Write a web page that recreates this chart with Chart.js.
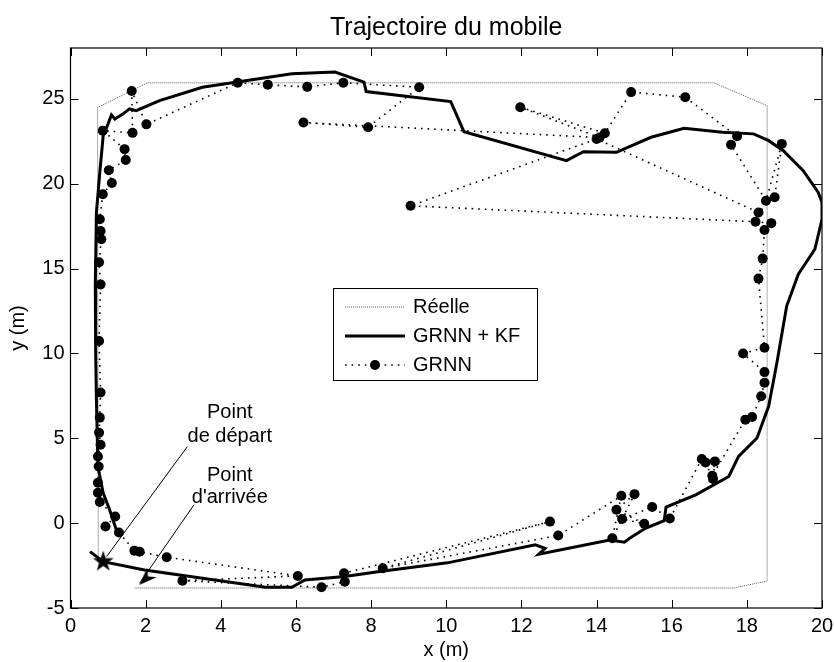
<!DOCTYPE html>
<html><head><meta charset="utf-8">
<script src="https://cdn.jsdelivr.net/npm/chart.js@4.4.1/dist/chart.umd.min.js"></script>
<style>html,body{margin:0;padding:0;background:#fff;overflow:hidden}#wrap{width:834px;height:662px;position:relative}</style>
</head><body><div id="wrap"><canvas id="c" width="834" height="662"></canvas></div>
<script>
// ---------------- data ----------------
const chartTitle = 'Trajectoire du mobile';
const xAxisTitle = 'x (m)';
const yAxisTitle = 'y (m)';
const seriesLabels = ['Réelle', 'GRNN + KF', 'GRNN'];
const xTicks = [0, 2, 4, 6, 8, 10, 12, 14, 16, 18, 20];
const yTicks = [-5, 0, 5, 10, 15, 20, 25];

const reelleX = [1.70, 17.65, 18.54, 18.54, 17.12, 2.05, 0.72, 0.74];
const reelleY = [-3.82, -3.82, -3.41, 24.60, 25.95, 25.95, 24.50, -2.58];

const kfX = [0.52,0.87,1.97,5.19,5.89,6.24,7.30,8.18,10.03,12.37,12.63,12.46,14.35,14.74,14.88,15.30,15.80,15.85,16.64,17.52,17.78,18.27,18.58,18.80,19.06,19.37,19.81,20.00,20.00,19.90,19.50,18.97,18.58,18.18,17.35,16.33,15.45,14.53,13.65,13.20,10.47,10.12,7.87,7.81,7.04,5.89,3.51,2.37,1.75,1.57,1.40,1.18,1.09,1.00,0.87,0.78,0.69,0.66,0.67,0.69,0.73,0.87,1.04,1.25];
const kfY = [-1.68,-2.27,-2.76,-3.78,-3.78,-3.35,-3.15,-2.86,-2.34,-1.28,-1.48,-1.83,-0.99,-1.12,-0.89,-0.30,0.15,0.95,1.67,2.75,3.93,5.02,6.89,9.45,12.79,14.67,16.14,17.91,18.90,19.49,20.77,21.95,22.54,22.94,23.04,23.27,22.74,21.85,21.89,21.36,23.07,24.84,25.43,25.99,26.58,26.48,25.69,24.90,24.31,24.41,24.12,23.82,24.06,23.53,22.84,20.67,18.31,14.00,10.00,7.28,3.34,1.77,0.79,-0.60];

const grnnX = [1.29,1.70,1.84,2.56,6.05,2.98,6.68,7.30,7.28,12.76,8.31,12.98,14.66,14.42,15.01,14.53,15.27,14.68,15.48,15.95,16.80,16.90,17.10,17.15,17.08,17.96,18.14,18.38,18.47,18.47,17.90,18.47,18.31,18.42,18.47,18.65,18.23,9.05,14.00,18.31,18.74,18.93,18.51,17.58,17.74,16.36,14.92,14.22,11.97,14.08,6.20,7.92,9.28,7.26,6.30,5.25,4.45,2.02,1.63,1.65,0.86,1.44,1.47,1.02,1.10,0.86,0.78,0.80,0.82,0.76,0.80,0.76,0.80,0.78,0.76,0.80,0.73,0.75,0.73,0.73,0.78,1.19,0.93];
const grnnY = [-0.55,-1.62,-1.68,-2.01,-3.11,-3.39,-3.78,-3.45,-2.95,0.09,-2.66,-0.73,1.61,-0.89,1.71,0.79,-0.04,0.24,0.95,0.27,3.78,3.58,2.60,3.64,2.79,6.10,6.26,7.48,8.27,8.90,10.00,10.34,14.41,15.59,17.27,17.68,17.76,18.70,22.64,18.31,19.20,22.35,19.00,22.30,22.80,25.10,25.40,22.98,24.51,22.72,23.61,23.33,25.69,25.95,25.71,25.83,25.95,23.50,25.47,23.00,23.13,22.04,21.40,20.80,20.04,19.38,17.91,17.22,16.73,15.37,14.07,10.73,7.70,6.22,5.33,4.62,3.93,3.34,2.38,1.79,1.25,0.39,-0.20];

const startX = [0.87], startY = [-2.27];
const endX = [2.10], endY = [-3.05];

const startLabel = ['Point', 'de départ'];
const endLabel = ['Point', "d'arrivée"];
const startLeaderX = [3.11, 0.96], startLeaderY = [4.51, -1.97];
const endLeaderX = [3.29, 1.84], endLeaderY = [1.09, -3.54];

// ---------------- helpers / styles ----------------
const FONT = "'Liberation Sans', Arial, Helvetica, sans-serif";
const toPts = (xs, ys) => xs.map((x, i) => ({x, y: ys[i]}));

function makeStar(r) {
  const c = document.createElement('canvas');
  c.width = c.height = 2 * r + 2;
  const g = c.getContext('2d');
  g.translate(r + 1, r + 1);
  g.beginPath();
  for (let i = 0; i < 10; i++) {
    const rad = i % 2 === 0 ? r : r * 0.38;
    const a = -Math.PI / 2 + i * Math.PI / 5;
    g.lineTo(rad * Math.cos(a), rad * Math.sin(a));
  }
  g.closePath(); g.fillStyle = '#000'; g.fill();
  return c;
}
function makeArrow(s) {
  const c = document.createElement('canvas');
  c.width = c.height = s;
  const g = c.getContext('2d');
  const T = [1, s - 1], d = [0.7071, -0.7071], p = [0.7071, 0.7071];
  const L = s * 0.8, W = s * 0.3, N = s * 0.55;
  const B = [T[0] + L * d[0], T[1] + L * d[1]];
  g.beginPath();
  g.moveTo(T[0], T[1]);
  g.lineTo(B[0] + W * p[0], B[1] + W * p[1]);
  g.lineTo(T[0] + N * d[0], T[1] + N * d[1]);
  g.lineTo(B[0] - W * p[0], B[1] - W * p[1]);
  g.closePath(); g.fillStyle = '#000'; g.fill();
  return c;
}

// inward ticks + axes box
const boxTicks = {
  id: 'boxTicks',
  afterDatasetsDraw(chart) {
    const {ctx, chartArea: a, scales: {x, y}} = chart;
    ctx.save();
    ctx.strokeStyle = '#000'; ctx.lineWidth = 1.2; ctx.setLineDash([]);
    ctx.strokeRect(a.left, a.top, a.right - a.left, a.bottom - a.top);
    const L = 8;
    ctx.lineWidth = 1;
    ctx.beginPath();
    xTicks.forEach(v => {
      const px = Math.round(x.getPixelForValue(v)) + 0.5;
      ctx.moveTo(px, a.bottom); ctx.lineTo(px, a.bottom - L);
      ctx.moveTo(px, a.top); ctx.lineTo(px, a.top + L);
    });
    yTicks.forEach(v => {
      const py = Math.round(y.getPixelForValue(v)) + 0.5;
      ctx.moveTo(a.left, py); ctx.lineTo(a.left + L, py);
      ctx.moveTo(a.right, py); ctx.lineTo(a.right - L, py);
    });
    ctx.stroke();
    ctx.restore();
  }
};

// annotation texts
const annoText = {
  id: 'annoText',
  afterDatasetsDraw(chart, args, opts) {
    const {ctx, scales: {x, y}} = chart;
    ctx.save();
    ctx.fillStyle = '#000'; ctx.font = '20px ' + FONT;
    ctx.textAlign = 'center'; ctx.textBaseline = 'middle';
    opts.items.forEach(it => {
      it.lines.forEach((t, i) => {
        ctx.fillText(t, x.getPixelForValue(it.x), y.getPixelForValue(it.y[i]));
      });
    });
    ctx.restore();
  }
};

// boxed legend inside the plot
const boxLegend = {
  id: 'boxLegend',
  afterDraw(chart, args, o) {
    const ctx = chart.ctx;
    const items = chart.data.datasets.filter(d => d.inLegend);
    ctx.save();
    ctx.fillStyle = '#fff';
    ctx.fillRect(o.left, o.top, o.width, o.height);
    ctx.strokeStyle = '#000'; ctx.lineWidth = 1; ctx.setLineDash([]);
    ctx.strokeRect(o.left + 0.5, o.top + 0.5, o.width, o.height);
    items.forEach((d, i) => {
      const yy = o.top + o.firstRow + i * o.rowGap;
      ctx.strokeStyle = d.borderColor; ctx.lineWidth = d.borderWidth;
      ctx.setLineDash(d.borderDash || []);
      ctx.beginPath(); ctx.moveTo(o.lineX0, yy); ctx.lineTo(o.lineX1, yy); ctx.stroke();
      ctx.setLineDash([]);
      if (d.pointRadius > 0) {
        ctx.fillStyle = d.pointBackgroundColor;
        ctx.beginPath(); ctx.arc((o.lineX0 + o.lineX1) / 2, yy, d.pointRadius, 0, Math.PI * 2); ctx.fill();
      }
      ctx.fillStyle = '#000'; ctx.font = '20px ' + FONT;
      ctx.textAlign = 'left'; ctx.textBaseline = 'middle';
      ctx.fillText(d.label, o.textX, yy);
    });
    ctx.restore();
  }
};

const datasets = [
  { label: seriesLabels[0], inLegend: true, data: toPts(reelleX, reelleY), showLine: true,
    borderColor: '#5a5a5a', borderWidth: 1, borderDash: [1, 1], pointRadius: 0, order: 5, tension: 0 },
  { label: seriesLabels[2], inLegend: true, data: toPts(grnnX, grnnY), showLine: true,
    borderColor: '#000', borderWidth: 1.6, borderDash: [1.6, 5], pointRadius: 5,
    pointBackgroundColor: '#000', pointBorderWidth: 0, order: 4, tension: 0 },
  { label: seriesLabels[1], inLegend: true, data: toPts(kfX, kfY), showLine: true,
    borderColor: '#000', borderWidth: 3, pointRadius: 0, order: 3, tension: 0 },
  { label: 'leader1', data: toPts(startLeaderX, startLeaderY), showLine: true,
    borderColor: '#000', borderWidth: 1, pointRadius: 0, order: 2 },
  { label: 'leader2', data: toPts(endLeaderX, endLeaderY), showLine: true,
    borderColor: '#000', borderWidth: 1, pointRadius: 0, order: 2 },
  { label: 'start', data: toPts(startX, startY), pointStyle: makeStar(11), pointRadius: 11, order: 1, clip: false },
  { label: 'end', data: toPts(endX, endY), pointStyle: makeArrow(22), pointRadius: 11, order: 1, clip: false }
];
const legendOrder = [0, 2, 1];
const orderedForLegend = legendOrder.map(i => datasets[i]);

new Chart(document.getElementById('c'), {
  type: 'scatter',
  data: { datasets: orderedForLegend.concat(datasets.slice(3)) },
  plugins: [boxTicks, annoText, boxLegend],
  options: {
    responsive: false, animation: false, devicePixelRatio: 1,
    layout: { padding: { left: 0, right: 7, top: 0, bottom: 0 } },
    plugins: {
      legend: { display: false },
      tooltip: { enabled: false },
      title: { display: true, text: chartTitle, color: '#000', fullSize: false,
        font: { family: FONT, size: 25, weight: 'normal', lineHeight: 1.2 }, padding: { top: 13, bottom: 5 } },
      annoText: { items: [
        { x: 4.24, y: [6.51, 5.10], lines: startLabel },
        { x: 4.24, y: [2.79, 1.50], lines: endLabel } ] },
      boxLegend: { left: 333, top: 288, width: 204, height: 92, firstRow: 19, rowGap: 29,
        lineX0: 345, lineX1: 405, textX: 413 }
    },
    scales: {
      x: { type: 'linear', min: 0, max: 20,
        afterBuildTicks: s => { s.ticks = xTicks.map(v => ({ value: v })); },
        afterFit: s => { s.height = 54; s.paddingLeft = 0; s.paddingRight = 0; },
        grid: { display: false, drawTicks: false }, border: { display: false },
        ticks: { color: '#000', padding: 6, maxRotation: 0, autoSkip: false,
          font: { family: FONT, size: 20 } },
        title: { display: true, text: xAxisTitle, color: '#000', padding: { top: 0, bottom: 0 },
          font: { family: FONT, size: 20 } } },
      y: { type: 'linear', min: -5, max: 28,
        afterBuildTicks: s => { s.ticks = yTicks.map(v => ({ value: v })); },
        afterFit: s => { s.width = 70.5; s.paddingTop = 0; s.paddingBottom = 0; },
        grid: { display: false, drawTicks: false }, border: { display: false },
        ticks: { color: '#000', padding: 6, autoSkip: false,
          font: { family: FONT, size: 20 } },
        title: { display: true, text: yAxisTitle, color: '#000', padding: { top: 6, bottom: 0 },
          font: { family: FONT, size: 20 } } }
    }
  }
});
</script></body></html>
